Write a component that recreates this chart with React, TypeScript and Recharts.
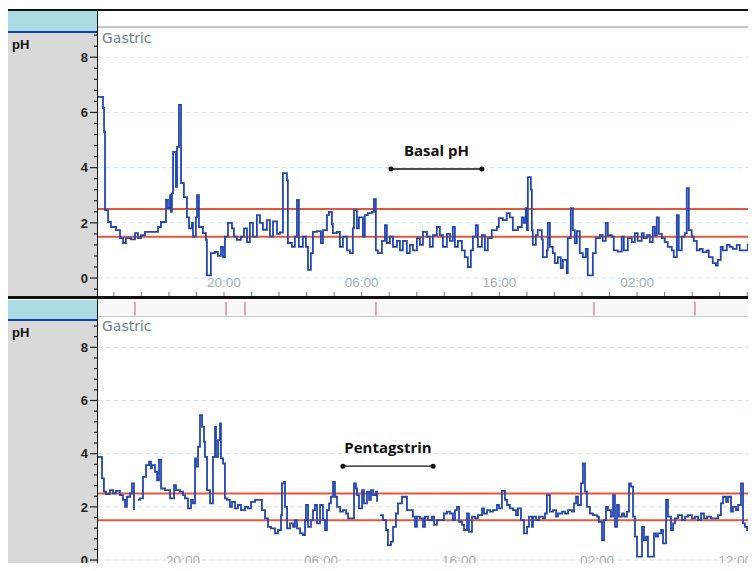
import React from "react";
import { LineChart, Line, XAxis, YAxis, ReferenceLine, ReferenceDot } from "recharts";

// top trace: hours from the left edge of the window, pH
const basalHours = [
  0, 0.36, 0.44, 0.51, 0.73, 0.94, 1.31, 1.6, 1.82, 2.03,
  2.4, 2.69, 2.9, 3.12, 3.41, 4.36, 4.57, 4.94, 5.08, 5.23,
  5.3, 5.37, 5.45, 5.66, 5.74, 5.88, 6.03, 6.24, 6.46, 6.61,
  6.82, 6.9, 7.11, 7.19, 7.33, 7.62, 7.84, 7.91, 8.2, 8.49,
  8.71, 8.93, 9.08, 9.22, 9.44, 9.73, 9.87, 10.09, 10.38, 10.6,
  10.82, 11.03, 11.25, 11.54, 11.76, 11.98, 12.27, 12.49, 12.71, 13.0,
  13.21, 13.43, 13.72, 13.79, 14.08, 14.3, 14.45, 14.59, 14.88, 15.1,
  15.25, 15.46, 15.61, 15.9, 16.19, 16.34, 16.63, 16.77, 16.99, 17.06,
  17.35, 17.57, 17.79, 18.08, 18.3, 18.51, 18.59, 18.8, 18.95, 19.24,
  19.38, 19.6, 19.89, 20.04, 20.18, 20.33, 20.62, 20.84, 20.98, 21.2,
  21.42, 21.71, 21.93, 22.14, 22.43, 22.65, 22.87, 23.16, 23.38, 23.6,
  23.89, 24.1, 24.32, 24.61, 24.83, 25.05, 25.34, 25.56, 25.77, 25.92,
  26.14, 26.43, 26.64, 26.86, 27.08, 27.23, 27.44, 27.59, 27.88, 28.1,
  28.31, 28.6, 28.97, 29.11, 29.4, 29.69, 29.91, 30.13, 30.49, 30.78,
  30.93, 31.07, 31.15, 31.22, 31.44, 31.51, 31.58, 31.8, 31.94, 32.23,
  32.31, 32.6, 32.67, 32.82, 33.03, 33.18, 33.4, 33.61, 33.76, 34.05,
  34.12, 34.34, 34.49, 34.63, 34.78, 34.99, 35.21, 35.43, 35.57, 35.86,
  35.94, 36.15, 36.45, 36.66, 36.88, 37.03, 37.32, 37.46, 37.75, 38.04,
  38.19, 38.48, 38.77, 38.99, 39.2, 39.49, 39.64, 39.86, 40.08, 40.29,
  40.44, 40.58, 40.73, 40.95, 41.16, 41.38, 41.67, 41.82, 42.04, 42.18,
  42.4, 42.62, 42.76, 42.91, 43.12, 43.27, 43.49, 43.71, 43.92, 44.21,
  44.36, 44.65, 44.87, 45.01, 45.23, 45.38, 45.67, 45.88, 46.1, 46.39,
  46.61, 46.97, 47.19, 47.41, 47.55, 47.7,
];
const basalPh = [
  6.56, 6.16, 5.3, 2.46, 2.03, 1.85, 1.74, 1.45, 1.27, 1.45,
  1.4, 1.63, 1.45, 1.55, 1.67, 1.85, 2.03, 2.83, 2.53, 3.0,
  2.4, 3.07, 4.57, 3.3, 4.75, 6.27, 3.44, 2.93, 2.2, 1.8,
  2.0, 1.5, 2.2, 3.0, 1.85, 1.63, 1.38, 0.1, 0.9, 0.95,
  0.8, 1.13, 0.76, 1.5, 2.0, 1.8, 1.5, 1.38, 1.5, 1.8,
  1.3, 2.0, 1.5, 2.28, 2.0, 1.75, 2.1, 1.5, 2.05, 1.6,
  1.65, 3.8, 3.55, 1.27, 1.13, 1.5, 2.83, 1.13, 1.5, 1.13,
  0.3, 0.9, 1.67, 1.7, 1.27, 1.74, 2.28, 2.4, 1.95, 1.63,
  1.67, 1.13, 1.5, 1.0, 0.9, 1.8, 2.46, 1.8, 2.2, 1.5,
  2.28, 2.35, 2.4, 2.86, 1.0, 0.9, 1.35, 1.92, 1.27, 1.5,
  1.13, 1.35, 1.0, 1.35, 0.9, 1.2, 1.0, 1.45, 1.2, 1.67,
  1.5, 1.13, 1.55, 1.85, 1.55, 1.13, 1.6, 1.35, 1.85, 1.13,
  1.35, 1.0, 0.76, 0.4, 1.0, 1.5, 1.92, 1.13, 1.55, 1.0,
  1.45, 1.74, 1.85, 2.17, 2.1, 2.35, 2.2, 1.74, 1.85, 2.2,
  2.0, 2.53, 1.74, 3.66, 3.2, 1.74, 1.2, 1.55, 1.74, 1.4,
  0.76, 1.0, 2.0, 1.13, 0.9, 0.54, 0.76, 0.36, 0.66, 0.18,
  1.45, 2.53, 1.74, 1.27, 1.7, 0.9, 0.76, 1.06, 0.1, 0.1,
  0.9, 1.45, 1.55, 1.35, 2.0, 1.55, 1.5, 1.0, 0.96, 1.5,
  1.0, 1.45, 1.3, 1.63, 1.35, 1.63, 1.45, 1.55, 1.3, 1.85,
  1.55, 2.2, 1.6, 1.45, 1.3, 1.13, 1.0, 0.76, 2.28, 1.0,
  1.5, 1.63, 3.26, 1.74, 1.5, 1.35, 1.0, 1.06, 0.94, 1.0,
  0.76, 0.54, 0.45, 0.66, 1.13, 1.0, 1.2, 1.13, 1.06, 1.2,
  1.0, 1.0, 1.2, 1.85, 1.5, 1.74,
];

// bottom trace (null = gap in the recording)
const pentaHours = [
  0, 0.29, 0.43, 0.58, 0.87, 1.09, 1.3, 1.59, 1.81, 1.96,
  2.1, 2.32, 2.46, 2.61, 2.68, 2.9, 3.04, 3.26, 3.48, 3.7,
  3.84, 3.91, 4.13, 4.28, 4.42, 4.57, 4.85, 5.22, 5.51, 5.65,
  5.94, 6.16, 6.3, 6.52, 6.74, 6.88, 7.03, 7.1, 7.25, 7.39,
  7.54, 7.68, 7.75, 7.9, 8.12, 8.33, 8.48, 8.55, 8.7, 8.84,
  8.91, 9.06, 9.2, 9.35, 9.56, 9.71, 9.93, 10.14, 10.36, 10.65,
  10.87, 11.09, 11.38, 11.74, 11.88, 12.1, 12.32, 12.54, 12.83, 13.04,
  13.26, 13.33, 13.48, 13.55, 13.7, 13.91, 14.13, 14.27, 14.42, 14.64,
  14.85, 15.0, 15.07, 15.22, 15.43, 15.58, 15.72, 15.87, 16.09, 16.3,
  16.45, 16.59, 16.74, 16.88, 17.03, 17.17, 17.32, 17.54, 17.75, 17.97,
  18.12, 18.55, 18.69, 18.77, 18.91, 19.13, 19.27, 19.49, 19.64, 19.78,
  19.93, 20.14, 20.22, 20.29, 20.43, 20.65, 20.87, 21.01, 21.23, 21.38,
  21.59, 21.74, 22.03, 22.25, 22.39, 22.61, 22.82, 22.97, 23.11, 23.33,
  23.55, 23.69, 23.91, 24.2, 24.35, 24.56, 25.07, 25.29, 25.51, 25.72,
  25.87, 26.01, 26.16, 26.38, 26.52, 26.74, 26.88, 27.1, 27.32, 27.53,
  27.83, 27.97, 28.19, 28.41, 28.62, 28.91, 29.06, 29.27, 29.49, 29.64,
  29.85, 30.07, 30.29, 30.43, 30.65, 30.87, 31.09, 31.23, 31.45, 31.52,
  31.74, 31.96, 32.24, 32.39, 32.53, 32.75, 32.97, 33.19, 33.33, 33.62,
  33.84, 34.06, 34.35, 34.49, 34.64, 34.78, 35.0, 35.14, 35.29, 35.43,
  35.65, 35.87, 36.16, 36.3, 36.52, 36.67, 36.81, 36.95, 37.17, 37.32,
  37.46, 37.61, 37.75, 37.97, 38.12, 38.33, 38.48, 38.62, 38.77, 38.91,
  39.06, 39.27, 39.42, 39.56, 39.71, 39.85, 40.22, 40.29, 40.43, 40.58,
  40.8, 40.94, 41.16, 41.3, 41.52, 41.67, 41.81, 42.03, 42.32, 42.54,
  42.75, 43.04, 43.26, 43.48, 43.7, 43.91, 44.13, 44.42, 44.71, 44.93,
  45.14, 45.29, 45.51, 45.65, 45.87, 46.01, 46.23, 46.38, 46.59, 46.74,
  46.88, 47.03, 47.25, 47.39, 47.54,
];
const pentaPh = [
  3.88, 3.07, 2.57, 2.48, 2.63, 2.51, 2.6, 2.44, 2.26, 2.0,
  2.38, 2.51, 2.88, 1.88, null, 2.26, 2.32, 3.13, 3.57, 3.7,
  3.45, 3.57, 3.32, 3.0, 3.78, 2.69, 2.63, 2.32, 2.82, 2.63,
  2.57, 2.44, 2.32, 1.94, 2.26, 2.13, 3.82, 3.51, 4.26, 5.45,
  5.01, 4.45, 3.88, 2.63, 2.13, 3.88, 5.01, 3.88, 4.51, 5.14,
  3.82, 3.63, 2.32, 2.26, 2.0, 2.19, 1.94, 2.07, 1.88, 2.0,
  1.94, 2.19, 2.26, 2.26, 1.88, 1.57, 1.25, 1.19, 1.0, 1.13,
  1.69, 2.88, 2.94, 2.0, 1.19, 1.38, 1.25, 1.5, 1.19, 1.0,
  0.94, 1.5, 2.07, 1.25, 1.5, 1.88, 2.07, 1.38, 2.07, 1.5,
  1.13, 1.88, 2.13, 2.38, 2.94, 2.38, 2.0, 1.82, 1.88, 1.75,
  1.57, 2.88, 2.69, 2.44, 1.94, 2.63, 2.13, 2.57, 2.26, 2.63,
  2.44, 2.57, 2.19, null, 1.69, 1.5, 1.13, 0.56, 0.69, 1.25,
  1.75, 2.13, 2.38, 2.38, 1.88, 1.88, 1.63, 1.25, 1.63, 1.57,
  1.25, 1.63, 1.5, 1.63, 1.32, 1.5, 1.75, 1.82, 1.75, 1.5,
  1.88, 2.0, 1.44, 1.32, 1.13, 1.75, 1.06, 1.63, 1.57, 1.69,
  1.94, 1.75, 1.88, 1.82, 1.88, 2.07, 1.94, 2.6, 2.26, 2.07,
  1.94, 1.88, 1.69, 1.94, 1.5, 1.0, 1.25, 1.63, 1.25, 1.63,
  1.5, 1.63, 1.57, 1.75, 2.44, 1.82, 1.88, 1.63, 1.75, 1.82,
  1.75, 1.88, 1.82, 2.13, 2.38, 2.07, 2.88, 3.63, 2.57, 2.0,
  1.75, 1.69, 1.63, 1.44, 0.75, 1.5, 2.0, 1.88, 1.63, 2.44,
  1.25, 2.07, 1.63, 1.75, 1.63, 1.82, 2.88, 2.76, 1.63, 0.88,
  0.13, 0.13, 1.25, 0.75, 0.88, 0.13, 0.13, 1.0, 0.88, 1.0,
  1.13, 0.63, 2.26, 1.63, 1.13, 1.38, 1.57, 1.69, 1.5, 1.63,
  1.69, 1.57, 1.63, 1.5, 1.75, 1.57, 1.63, 1.57, 1.57, 1.69,
  2.13, 2.38, 2.19, 2.38, 1.82, 2.0, 1.88, 2.07, 2.88, 1.38,
  1.25, 1.13, 0.75, 1.13, 1.88,
];

// clock time (hours after the first midnight) at each window's left edge
const basalClockStart = 10.85;
const pentaClockStart = 13.84;
const basalSpan = 47.79;
const pentaSpan = 47.68;

const phLabels = [0, 2, 4, 6, 8];
const phMinorTicks = [
  -0.4, 0, 0.4, 0.8, 1.2, 1.6, 2, 2.4, 2.8, 3.2, 3.6, 4, 4.4, 4.8, 5.2, 5.6,
  6, 6.4, 6.8, 7.2, 7.6, 8, 8.4, 8.8,
];
const normalLimits = [1.5, 2.5];
const labelledClockHours = [20, 30, 40, 50, 60];
const eventHours = [2.68, 9.28, 10.65, 20.14, 35.94, 43.26];

const basalPeriod = { from: 21.28, to: 27.88, ph: 3.95, label: "Basal pH" };
const pentaPeriod = { from: 17.75, to: 24.28, ph: 3.53, label: "Pentagstrin" };

function TimeTick(props: any) {
  const { x, y, payload, start, labelGap } = props;
  const clock = Math.round(start + payload.value);
  const labelled = labelledClockHours.includes(clock);
  return (
    <g>
      <line x1={x} x2={x} y1={y} y2={y - 4} stroke="#777" />
      {labelled && (
        <text
          x={x}
          y={y - labelGap}
          textAnchor="middle"
          fill="#a4aeb6"
          fontSize={13.5}
          fontFamily="'Liberation Sans', Arial, sans-serif"
        >
          {String(clock % 24).padStart(2, "0") + ":00"}
        </text>
      )}
    </g>
  );
}

function PhTick(props: any) {
  const { x, y, payload } = props;
  const major = phLabels.includes(payload.value);
  return (
    <g>
      <line x1={x - (major ? 8 : 4)} x2={x} y1={y} y2={y} stroke="#222" strokeWidth={1.2} />
      {major && (
        <text
          x={x - 10}
          y={y}
          dy="0.36em"
          textAnchor="end"
          fontSize={13}
          fontWeight={700}
          fill="#222"
          fontFamily="'Liberation Sans', Arial, sans-serif"
        >
          {payload.value}
        </text>
      )}
    </g>
  );
}

function PhPanel({ hours, ph, clockStart, span, height, marginTop, domain, labelGap, period, events }: any) {
  const data = hours.map((t: number, i: number) => ({ t, ph: ph[i] }));
  const ticks: number[] = [];
  for (let t = Math.ceil(clockStart / 2) * 2 - clockStart; t <= span; t += 2) {
    ticks.push(+t.toFixed(2));
  }

  return (
    <LineChart width={748} height={height} data={data} margin={{ top: marginTop, right: 0, bottom: 0, left: 0 }}>
      <XAxis
        type="number"
        dataKey="t"
        domain={[0, span]}
        ticks={ticks}
        interval={0}
        height={1}
        axisLine={false}
        tickLine={false}
        tickSize={0}
        tickMargin={0}
        allowDataOverflow
        tick={(p: any) => <TimeTick {...p} start={clockStart} labelGap={labelGap} />}
      />
      <YAxis
        type="number"
        domain={domain}
        ticks={phMinorTicks}
        interval={0}
        width={90}
        axisLine={false}
        tickLine={false}
        tickSize={0}
        tickMargin={0}
        allowDataOverflow
        tick={(p: any) => <PhTick {...p} />}
      />
      {phLabels.map((v) => (
        <ReferenceLine key={`g${v}`} y={v} stroke="#c9dff0" strokeDasharray="4 4" />
      ))}
      {normalLimits.map((v) => (
        <ReferenceLine key={`n${v}`} y={v} stroke="#e2583a" strokeWidth={2} />
      ))}
      {(events || []).map((e: number) => (
        <ReferenceLine
          key={`e${e}`}
          segment={[{ x: e, y: 9.2 }, { x: e, y: 9.7 }]}
          stroke="#d98aa8"
          strokeWidth={1.5}
          ifOverflow="visible"
        />
      ))}
      <Line
        type="stepAfter"
        dataKey="ph"
        stroke="#2347ae"
        strokeWidth={1.8}
        dot={false}
        isAnimationActive={false}
      />
      <ReferenceLine
        segment={[{ x: period.from, y: period.ph }, { x: period.to, y: period.ph }]}
        stroke="#111"
        strokeWidth={1.3}
        label={{
          value: period.label,
          position: "top",
          offset: 13,
          fill: "#111",
          fontSize: 15,
          fontWeight: 700,
          fontFamily: "'Open Sans', sans-serif",
        }}
      />
      <ReferenceDot x={period.from} y={period.ph} r={2.5} fill="#111" stroke="none" />
      <ReferenceDot x={period.to} y={period.ph} r={2.5} fill="#111" stroke="none" />
    </LineChart>
  );
}

const box = (left: number, top: number, width: number, height: number, background: string) => (
  <div style={{ position: "absolute", left, top, width, height, background }} />
);

const gastricStyle: React.CSSProperties = {
  position: "absolute",
  left: 102,
  fontFamily: "'DejaVu Sans', sans-serif",
  fontSize: 14,
  lineHeight: "14px",
  color: "#728188",
};

const phStyle: React.CSSProperties = {
  position: "absolute",
  left: 12,
  fontSize: 13,
  lineHeight: "13px",
  fontWeight: 700,
  color: "#111",
};

export default function App() {
  return (
    <div
      style={{
        position: "relative",
        width: 756,
        height: 571,
        margin: -8,
        overflow: "hidden",
        background: "#fff",
        fontFamily: "'Liberation Sans', Arial, sans-serif",
      }}
    >
      {/* top panel chrome */}
      {box(8, 11, 90, 20, "#a9dce3")}
      {box(8, 31, 90, 2, "#1f3c9e")}
      {box(8, 33, 90, 263, "#d9d9d9")}
      {box(98, 26, 658, 2, "#c6c6c6")}

      {/* bottom panel chrome */}
      {box(98, 300, 658, 17, "#f7f7f7")}
      {box(98, 316, 658, 1, "#c8c8c8")}
      {box(8, 300, 90, 19, "#a9dce3")}
      {box(8, 319, 90, 2, "#1f3c9e")}
      {box(8, 321, 90, 250, "#d9d9d9")}

      <div style={{ position: "absolute", left: 8, top: 28 }}>
        <PhPanel
          hours={basalHours}
          ph={basalPh}
          clockStart={basalClockStart}
          span={basalSpan}
          height={269}
          marginTop={3}
          domain={[-0.65, 8.95]}
          labelGap={9}
          period={basalPeriod}
        />
      </div>
      <div style={{ position: "absolute", left: 8, top: 300 }}>
        <PhPanel
          hours={pentaHours}
          ph={pentaPh}
          clockStart={pentaClockStart}
          span={pentaSpan}
          height={277}
          marginTop={17}
          domain={[-0.6, 9.14]}
          labelGap={11}
          period={pentaPeriod}
          events={eventHours}
        />
      </div>

      <div style={{ ...phStyle, top: 38 }}>pH</div>
      <div style={{ ...phStyle, top: 326 }}>pH</div>
      <div style={{ ...gastricStyle, top: 31 }}>Gastric</div>
      <div style={{ ...gastricStyle, top: 319 }}>Gastric</div>

      {/* frame */}
      {box(8, 9, 748, 2, "#111")}
      {box(6, 9, 2, 562, "#111")}
      {box(96.5, 9, 1.5, 562, "#111")}
      {box(8, 296, 748, 3, "#111")}
    </div>
  );
}
